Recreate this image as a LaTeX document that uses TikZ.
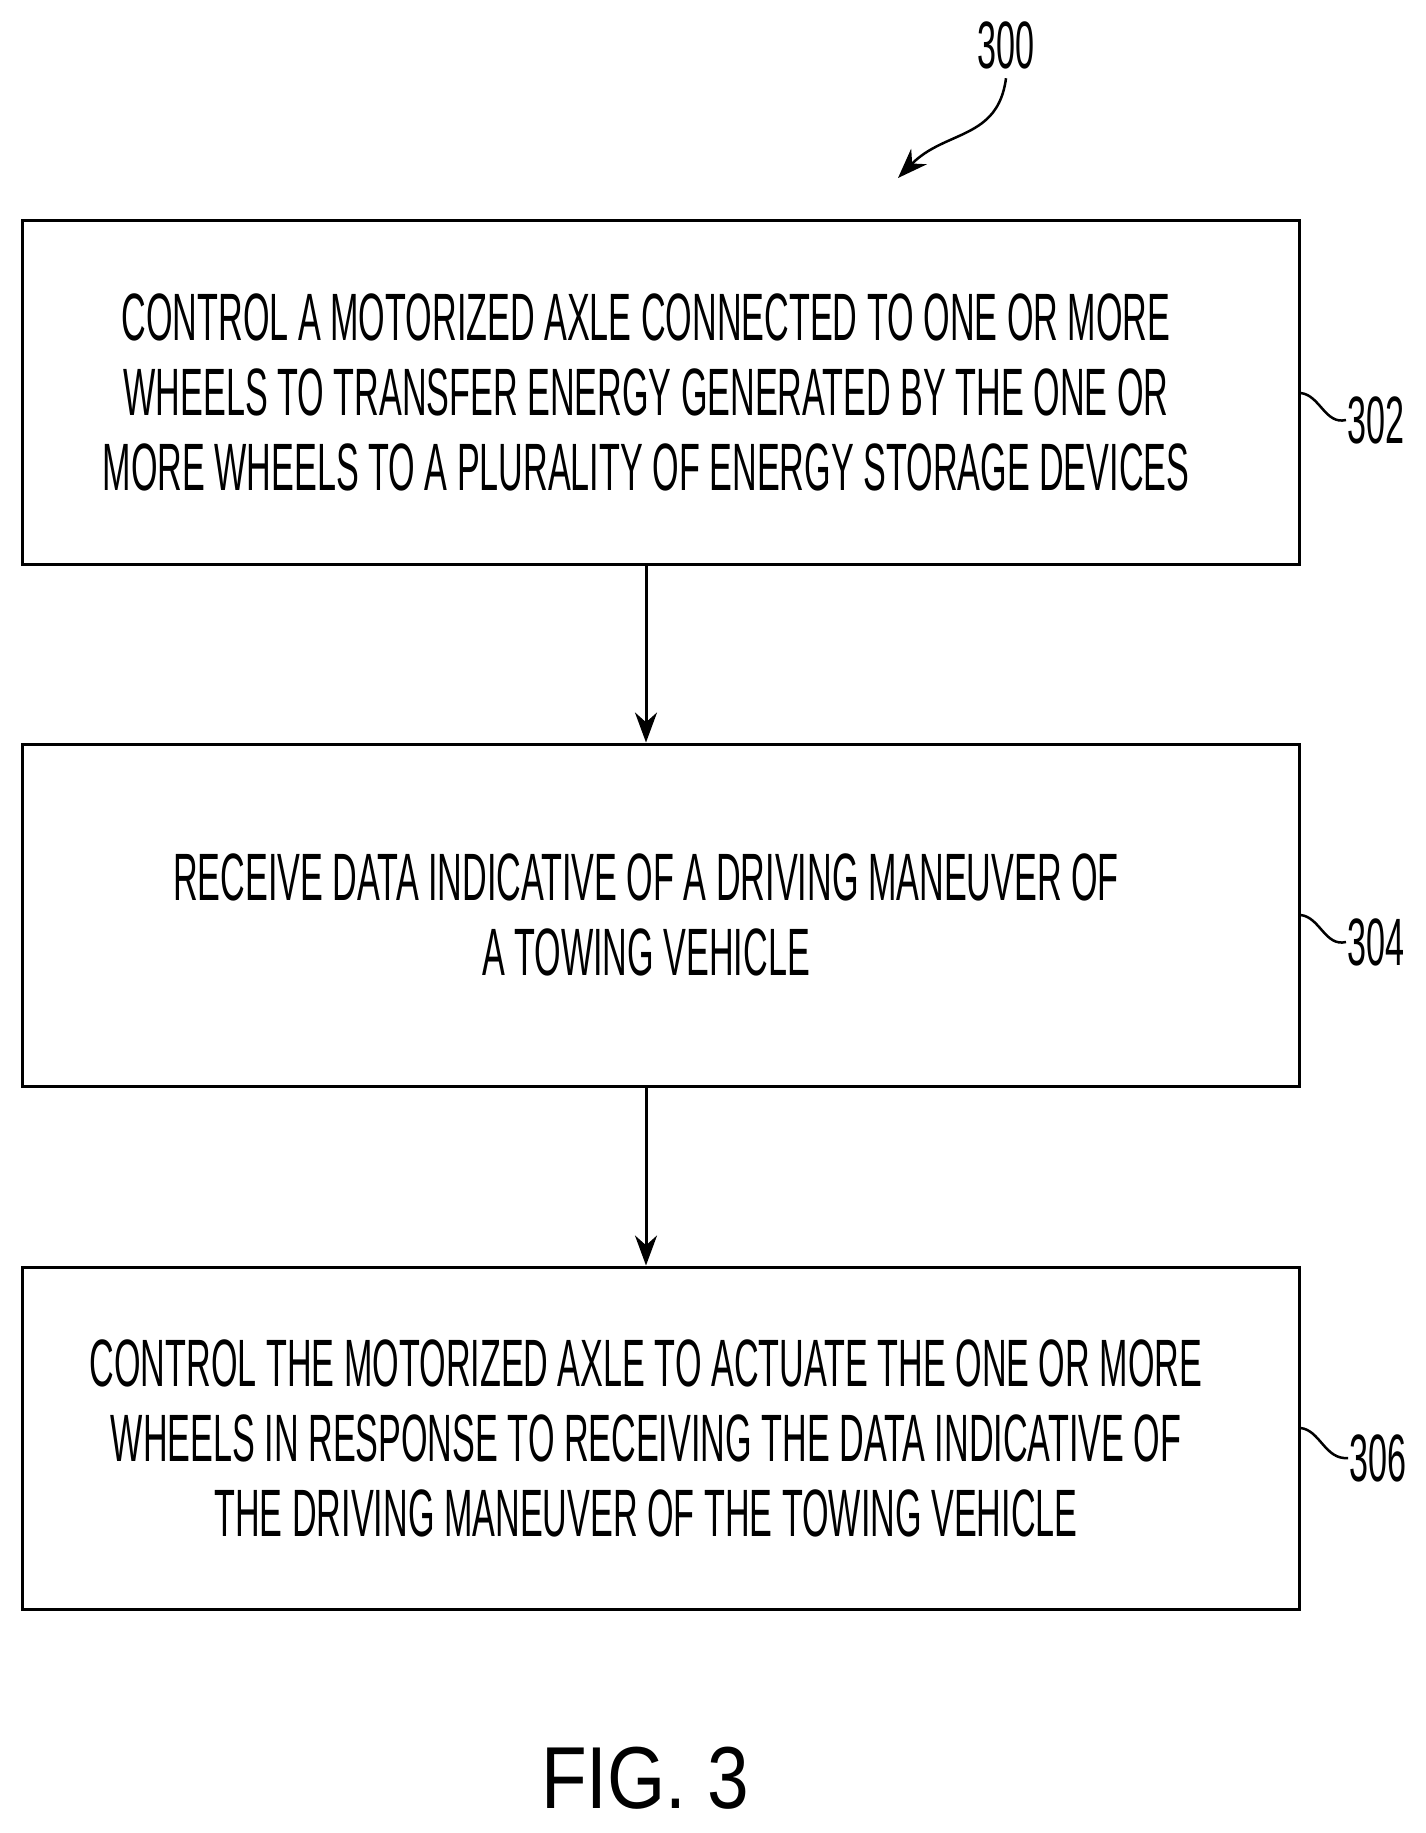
\documentclass[tikz,border=0pt]{standalone}
\usepackage{fontspec}
\setmainfont{Liberation Sans}[FakeStretch=0.51]
\newfontfamily\figfont{Liberation Sans}[FakeStretch=0.85]
\usetikzlibrary{arrows.meta}
\tikzset{every picture/.style={line width=3pt}}
\tikzset{
  stepbox/.style={draw, rectangle, inner sep=0pt, minimum width=1277pt},
  steptext/.style={inner sep=0pt, align=center, font=\fontsize{67}{75}\selectfont},
  reflabel/.style={inner sep=0pt, font=\fontsize{67}{75}\selectfont},
  flowarrow/.style={-{Stealth[length=30pt,width=22pt]}}
}

\begin{document}
\begin{tikzpicture}[x=1pt,y=1pt,yscale=-1,xscale=1]
        \useasboundingbox (0,0) rectangle (1426,1833);

        % Steps
        \node [stepbox, minimum height=344pt] (step302) at (660.5,392) {};
        \node [steptext] (txt302) at (646,392) {CONTROL A MOTORIZED AXLE CONNECTED TO ONE OR MORE\\WHEELS TO TRANSFER ENERGY GENERATED BY THE ONE OR\\MORE WHEELS TO A PLURALITY OF ENERGY STORAGE DEVICES};
        \node [stepbox, minimum height=342pt] (step304) at (660.5,915) {};
        \node [steptext] (txt304) at (646,915) {RECEIVE DATA INDICATIVE OF A DRIVING MANEUVER OF\\A TOWING VEHICLE};
        \node [stepbox, minimum height=342pt] (step306) at (660.5,1438) {};
        \node [steptext] (txt306) at (646,1438) {CONTROL THE MOTORIZED AXLE TO ACTUATE THE ONE OR MORE\\WHEELS IN RESPONSE TO RECEIVING THE DATA INDICATIVE OF\\THE DRIVING MANEUVER OF THE TOWING VEHICLE};

        % Arrows
        \draw [flowarrow] (step302.south -| txt302) -- (step304.north -| txt302);
        \draw [flowarrow] (step304.south -| txt304) -- (step306.north -| txt304);

        % Reference numerals
        \node [reflabel] (ref300) at (1006,45) {300};
        \node [reflabel] (ref302) at (1376,420) {302};
        \node [reflabel] (ref304) at (1376,942) {304};
        \node [reflabel] (ref306) at (1378,1458) {306};
        \coordinate (tip300) at (898,178);

        % Leaders
        \draw [line width=2.5pt, flowarrow] (ref300.south) ++(0,8) .. controls (998,140) and (945,130) .. (tip300);
        \draw [line width=2.5pt] (step302.east |- 0,393) .. controls (1320,395) and (1325,425) .. (ref302.west);
        \draw [line width=2.5pt] (step304.east |- 0,915) .. controls (1320,917) and (1325,947) .. (ref304.west);
        \draw [line width=2.5pt] (step306.east |- 0,1428) .. controls (1320,1430) and (1325,1460) .. (ref306.west);

        % Caption
        \node [inner sep=0pt, font=\figfont\fontsize{88}{95}\selectfont] (caption) at (645,1778) {FIG. 3};
\end{tikzpicture}
\end{document}
